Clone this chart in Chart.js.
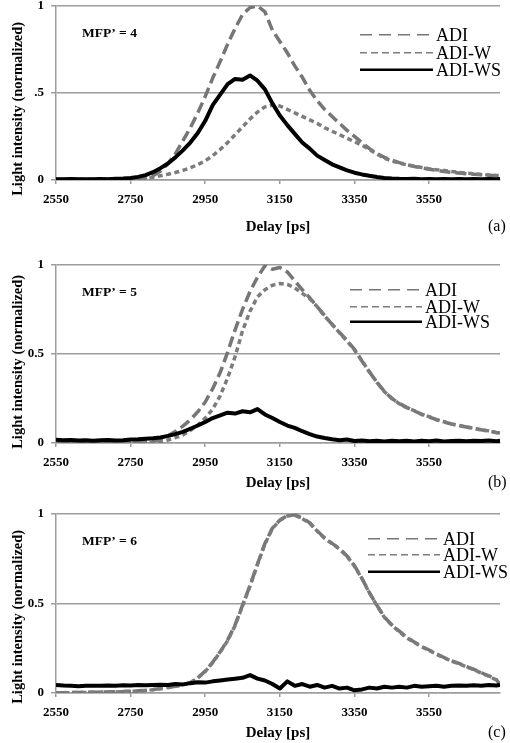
<!DOCTYPE html>
<html><head><meta charset="utf-8">
<script src="https://cdn.jsdelivr.net/npm/chart.js@4/dist/chart.umd.min.js"></script>
<style>
html,body{margin:0;padding:0;background:#fff;overflow:hidden;width:510px;height:743px;position:relative}
.p{position:absolute;left:0;width:510px;height:252px}
canvas{display:block}
</style></head><body>
<div class="p" id="pa"><canvas id="ca" width="510" height="252"></canvas></div>
<div class="p" id="pb"><canvas id="cb" width="510" height="252"></canvas></div>
<div class="p" id="pc"><canvas id="cc" width="510" height="252"></canvas></div>
<script>
// ---------- data ----------
const delay = [2550,2570,2590,2610,2630,2650,2670,2690,2710,2730,2750,2770,2790,2810,2830,2850,2870,2890,2910,2930,
2950,2970,2990,3010,3030,3050,3070,3090,3110,3130,3150,3170,3190,3210,3230,3250,3270,3290,3310,3330,
3350,3370,3390,3410,3430,3450,3470,3490,3510,3530,3550,3570,3590,3610,3630,3650,3670,3690,3710,3730,3740];

const seriesNames = ['ADI', 'ADI-W', 'ADI-WS'];
const xTicks = [2550, 2750, 2950, 3150, 3350, 3550];
const xTickLabels = ['2550', '2750', '2950', '3150', '3350', '3550'];
const yTicks = [0, 0.5, 1];
const yTickLabelsA = ['0', '.5', '1'];
const yTickLabelsBC = ['0', '0.5', '1'];
const panelLabels = ['MFP\u2019 = 4', 'MFP\u2019 = 5', 'MFP\u2019 = 6'];
const panelTags = ['(a)', '(b)', '(c)'];
const xTitle = 'Delay [ps]';
const yTitle = 'Light intensity (normalized)';

// panel (a) MFP' = 4
const adiA = [0.004,0.003,0.004,0.003,0.004,0.003,0.004,0.004,0.005,0.005,0.006,0.008,0.012,0.025,0.05,0.095,0.15,0.225,0.30,0.385,
0.48,0.585,0.68,0.78,0.87,0.95,0.99,1.0,0.965,0.86,0.795,0.73,0.655,0.59,0.515,0.455,0.405,0.365,0.325,0.285,
0.25,0.215,0.18,0.152,0.13,0.115,0.10,0.088,0.078,0.07,0.062,0.055,0.049,0.044,0.04,0.036,0.033,0.03,0.027,0.024,0.022];
const adiWA = [0.003,0.003,0.002,0.003,0.003,0.002,0.003,0.003,0.003,0.004,0.004,0.005,0.008,0.015,0.024,0.033,0.043,0.055,0.07,0.088,
0.11,0.14,0.175,0.215,0.26,0.305,0.35,0.39,0.42,0.43,0.425,0.405,0.385,0.365,0.345,0.325,0.30,0.28,0.26,0.24,
0.22,0.20,0.175,0.15,0.125,0.108,0.097,0.087,0.079,0.072,0.065,0.059,0.054,0.049,0.044,0.04,0.036,0.032,0.029,0.026,0.025];
const wsA = [0.005,0.004,0.006,0.004,0.005,0.004,0.006,0.005,0.007,0.008,0.012,0.018,0.028,0.045,0.068,0.095,0.13,0.17,0.215,0.27,
0.34,0.43,0.49,0.55,0.58,0.575,0.60,0.57,0.52,0.44,0.37,0.315,0.265,0.215,0.18,0.14,0.115,0.09,0.072,0.055,
0.042,0.032,0.024,0.017,0.012,0.009,0.007,0.006,0.007,0.005,0.006,0.005,0.006,0.005,0.006,0.005,0.006,0.005,0.006,0.005,0.006];

// panel (b) MFP' = 5
const adiB = [0.004,0.004,0.003,0.004,0.004,0.003,0.004,0.004,0.004,0.005,0.005,0.006,0.007,0.01,0.022,0.04,0.065,0.095,0.13,0.175,
0.23,0.305,0.395,0.51,0.635,0.75,0.85,0.93,0.995,0.975,0.985,0.96,0.91,0.86,0.815,0.765,0.715,0.665,0.62,0.575,
0.525,0.46,0.40,0.34,0.29,0.25,0.222,0.20,0.18,0.162,0.146,0.131,0.118,0.107,0.098,0.09,0.082,0.074,0.067,0.059,0.056];
const adiWB = [0.003,0.003,0.002,0.003,0.003,0.002,0.003,0.003,0.003,0.003,0.004,0.004,0.004,0.005,0.008,0.017,0.03,0.045,0.07,0.10,
0.14,0.19,0.265,0.365,0.485,0.63,0.74,0.82,0.86,0.885,0.895,0.89,0.87,0.84,0.81,0.765,0.712,0.667,0.618,0.572,
0.522,0.462,0.398,0.342,0.288,0.252,0.22,0.198,0.182,0.16,0.148,0.13,0.119,0.106,0.099,0.089,0.083,0.073,0.068,0.058,0.055];
const wsB = [0.018,0.015,0.017,0.014,0.016,0.013,0.015,0.017,0.014,0.016,0.019,0.021,0.024,0.027,0.031,0.04,0.05,0.062,0.08,0.098,
0.118,0.14,0.155,0.17,0.165,0.178,0.172,0.19,0.16,0.14,0.118,0.098,0.085,0.066,0.05,0.036,0.028,0.021,0.016,0.02,
0.011,0.014,0.01,0.013,0.009,0.012,0.01,0.013,0.009,0.012,0.01,0.014,0.009,0.011,0.013,0.01,0.012,0.011,0.014,0.01,0.012];

// panel (c) MFP' = 6
const adiC = [0.002,0.002,0.003,0.003,0.004,0.004,0.005,0.006,0.007,0.008,0.01,0.012,0.015,0.019,0.025,0.031,0.038,0.046,0.058,0.085,
0.122,0.172,0.23,0.295,0.38,0.49,0.60,0.72,0.835,0.92,0.965,0.99,0.995,0.975,0.95,0.905,0.865,0.835,0.805,0.765,
0.71,0.64,0.56,0.49,0.425,0.38,0.345,0.31,0.285,0.26,0.24,0.218,0.198,0.18,0.165,0.148,0.132,0.113,0.096,0.075,0.047];
const adiWC = [0.001,0.002,0.002,0.003,0.003,0.004,0.005,0.005,0.006,0.008,0.009,0.011,0.014,0.018,0.024,0.03,0.037,0.045,0.057,0.083,
0.12,0.17,0.228,0.292,0.377,0.487,0.597,0.717,0.832,0.918,0.963,0.988,0.993,0.973,0.948,0.903,0.863,0.833,0.803,0.763,
0.708,0.638,0.558,0.488,0.423,0.378,0.343,0.308,0.283,0.258,0.238,0.216,0.196,0.178,0.163,0.146,0.13,0.111,0.094,0.073,0.045];
const wsC = [0.045,0.042,0.04,0.038,0.04,0.041,0.04,0.042,0.041,0.043,0.042,0.044,0.043,0.045,0.046,0.045,0.05,0.048,0.055,0.06,
0.058,0.065,0.07,0.075,0.08,0.085,0.10,0.08,0.07,0.05,0.025,0.065,0.04,0.05,0.035,0.045,0.03,0.04,0.025,0.03,
0.015,0.02,0.03,0.025,0.035,0.03,0.035,0.03,0.04,0.035,0.038,0.04,0.035,0.04,0.042,0.04,0.043,0.04,0.045,0.042,0.045];

// ---------- drawing ----------
const GRID = '#9d9d9d';
const SERIF = '"Liberation Serif", "Times New Roman", serif';
const seriesStyle = [
  {color: '#767676', width: 3.5, dash: [11, 5], order: 2, legendDash: [12, 7], legendWidth: 1.6},
  {color: '#7c7c7c', width: 3.5, dash: [5, 3.5], order: 1, legendDash: [7, 4], legendWidth: 1.6},
  {color: '#000000', width: 4, dash: [], order: 0, legendDash: [], legendWidth: 2.6}
];

const textPlugin = {
  id: 'panelText',
  afterDraw(chart, args, o) {
    const ctx = chart.ctx, a = chart.chartArea;
    ctx.save();
    ctx.fillStyle = '#000';
    // panel label
    ctx.font = 'bold 13.5px ' + SERIF;
    ctx.textAlign = 'left'; ctx.textBaseline = 'middle';
    ctx.fillText(o.label, 82, a.top + 28);
    // y title
    ctx.save();
    ctx.font = 'bold 14.5px ' + SERIF;
    ctx.translate(18, a.top + o.yTitleOff);
    ctx.rotate(-Math.PI / 2);
    ctx.textAlign = 'center';
    ctx.fillText(yTitle, 0, 0);
    ctx.restore();
    // tag
    ctx.font = '16px ' + SERIF;
    ctx.textAlign = 'left';
    ctx.fillText(o.tag, 488, a.bottom + o.tagOff);
    // legend
    chart.data.datasets.forEach((ds, i) => {
      const st = seriesStyle[i];
      const y = a.top + o.legendRows[i];
      ctx.save();
      ctx.strokeStyle = st.color;
      ctx.lineWidth = st.legendWidth;
      ctx.setLineDash(st.legendDash);
      ctx.beginPath();
      ctx.moveTo(o.legendX1, y);
      ctx.lineTo(o.legendX2, y);
      ctx.stroke();
      ctx.restore();
      ctx.font = '18px ' + SERIF;
      ctx.fillStyle = '#000';
      ctx.textBaseline = 'middle';
      ctx.fillText(ds.label, o.legendX2 + 3, y + 1);
    });
    ctx.restore();
  }
};

function makePanel(canvasId, divId, series, yLabels, idx, geo) {
  const canvasTop = geo.areaTop - 13;
  document.getElementById(divId).style.top = canvasTop + 'px';
  const h = geo.areaBottom - geo.areaTop;
  const xAxisH = 252 - 13 - h;
  const titleCenter = geo.titleY - canvasTop;
  const titlePad = 252 - titleCenter - 9;
  const datasets = series.map((arr, i) => ({
    label: seriesNames[i],
    data: delay.map((d, k) => ({x: d, y: arr[k]})),
    borderColor: seriesStyle[i].color,
    borderWidth: seriesStyle[i].width,
    borderDash: seriesStyle[i].dash,
    borderJoinStyle: 'round',
    pointRadius: 0,
    tension: 0,
    fill: false,
    order: seriesStyle[i].order
  }));
  new Chart(document.getElementById(canvasId), {
    type: 'line',
    data: {datasets},
    plugins: [textPlugin],
    options: {
      responsive: false,
      animation: false,
      devicePixelRatio: 1,
      layout: {padding: {left: 0, right: 10, top: 13, bottom: 0}},
      plugins: {
        legend: {display: false},
        tooltip: {enabled: false},
        panelText: {
          label: panelLabels[idx], tag: panelTags[idx],
          yTitleOff: geo.yTitleOff, tagOff: geo.titleY - geo.areaBottom,
          legendRows: geo.legendRows, legendX1: geo.legendX1, legendX2: geo.legendX2
        }
      },
      scales: {
        x: {
          type: 'linear', min: 2550, max: 3740,
          afterFit: s => { s.height = xAxisH; },
          afterBuildTicks: s => { s.ticks = xTicks.map(v => ({value: v})); },
          ticks: {
            callback: (v, i) => xTickLabels[i],
            autoSkip: false, maxRotation: 0, padding: 8, color: '#000',
            font: {family: SERIF, size: 13, weight: 'bold'}
          },
          grid: {drawOnChartArea: false, drawTicks: true, tickLength: 4, color: GRID, lineWidth: 1.5},
          border: {display: true, color: GRID, width: 1.5},
          title: {display: true, text: xTitle, color: '#000',
            font: {family: SERIF, size: 15, weight: 'bold'}, padding: {top: 0, bottom: titlePad}}
        },
        y: {
          min: 0, max: 1,
          afterFit: s => { s.width = 56; },
          afterBuildTicks: s => { s.ticks = yTicks.map(v => ({value: v})); },
          ticks: {
            callback: (v, i) => yLabels[i],
            padding: 7, color: '#000',
            font: {family: SERIF, size: 13, weight: 'bold'}
          },
          grid: {color: GRID, lineWidth: 1.5, tickLength: 5, drawTicks: true},
          border: {display: true, color: GRID, width: 1.5}
        }
      }
    }
  });
}

makePanel('ca', 'pa', [adiA, adiWA, wsA], yTickLabelsA, 0,
  {areaTop: 4, areaBottom: 180, titleY: 227, yTitleOff: 103, legendRows: [29, 47, 64], legendX1: 360, legendX2: 433});
makePanel('cb', 'pb', [adiB, adiWB, wsB], yTickLabelsBC, 1,
  {areaTop: 263, areaBottom: 443, titleY: 483, yTitleOff: 97, legendRows: [25, 42, 57], legendX1: 350, legendX2: 422});
makePanel('cc', 'pc', [adiC, adiWC, wsC], yTickLabelsBC, 2,
  {areaTop: 512, areaBottom: 693, titleY: 733, yTitleOff: 103, legendRows: [25, 41, 58], legendX1: 368, legendX2: 440});
</script>
</body></html>
